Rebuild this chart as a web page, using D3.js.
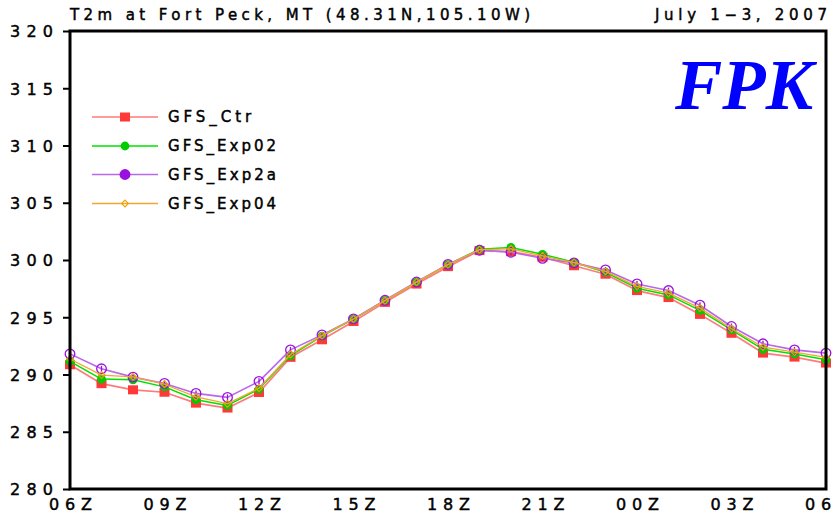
<!DOCTYPE html>
<html>
<head>
<meta charset="utf-8">
<script src="https://cdn.jsdelivr.net/npm/d3@7"></script>
<style>
  html, body { margin: 0; padding: 0; background: #fff; }
  svg { display: block; }
  .lbl { font-family: "DejaVu Sans", sans-serif; fill: #000; stroke: #000; stroke-width: 0.45px; }
</style>
</head>
<body>
<svg id="chart" width="832" height="515"></svg>
<script>
// Hourly 2 m temperature (K), 06Z to 06Z next day
const hours = d3.range(0, 25);
const tickHours = [0, 3, 6, 9, 12, 15, 18, 21, 24];
const tickLabels = ["06Z", "09Z", "12Z", "15Z", "18Z", "21Z", "00Z", "03Z", "06Z"];
const yTicks = [280, 285, 290, 295, 300, 305, 310, 315, 320];

const gfsCtr   = [290.85, 289.2, 288.66, 288.45, 287.5, 287.07, 288.43, 291.5, 293.03, 294.63, 296.3, 297.9, 299.42, 300.82, 300.73, 300.24, 299.5, 298.76, 297.33, 296.72, 295.25, 293.6, 291.87, 291.52, 291.0];
const gfsExp02 = [291.14, 289.6, 289.54, 288.92, 287.8, 287.3, 288.73, 291.65, 293.35, 294.83, 296.46, 298.06, 299.6, 300.94, 301.1, 300.5, 299.8, 298.93, 297.54, 296.95, 295.6, 293.9, 292.2, 291.8, 291.28];
const gfsExp2a = [291.8, 290.5, 289.77, 289.22, 288.35, 288.0, 289.4, 292.15, 293.46, 294.86, 296.48, 298.08, 299.62, 300.85, 300.68, 300.15, 299.75, 299.13, 297.91, 297.33, 296.05, 294.19, 292.68, 292.15, 291.87];
const gfsExp04 = [291.35, 289.95, 289.8, 289.15, 288.05, 287.45, 288.8, 291.75, 293.4, 294.85, 296.45, 298.07, 299.6, 300.9, 300.97, 300.36, 299.78, 299.0, 297.7, 297.1, 295.8, 294.0, 292.4, 291.95, 291.5];

const seriesNames = ["GFS_Ctr", "GFS_Exp02", "GFS_Exp2a", "GFS_Exp04"];

const series = [
  { name: seriesNames[0], values: gfsCtr,   line: "#ff7a7a", mark: "#ff3838", shape: "square",  lw: 1.7 },
  { name: seriesNames[1], values: gfsExp02, line: "#00e000", mark: "#00cc00", shape: "dot",     lw: 1.5 },
  { name: seriesNames[2], values: gfsExp2a, line: "#b868e8", mark: "#9a10e0", shape: "ring",    lw: 1.6 },
  { name: seriesNames[3], values: gfsExp04, line: "#f0a830", mark: "#f0a000", shape: "diamond", lw: 1.3 }
];

const frame = { left: 70, top: 31, right: 826, bottom: 489 };

const svg = d3.select("#chart");

const x = d3.scaleLinear().domain([0, 24]).range([frame.left, frame.right]);
const y = d3.scaleLinear().domain([280, 320]).range([frame.bottom, frame.top]);

const clipId = "plotclip";
svg.append("clipPath").attr("id", clipId)
  .append("rect")
  .attr("x", frame.left - 6).attr("y", frame.top)
  .attr("width", frame.right - frame.left + 12).attr("height", frame.bottom - frame.top);

// draws one marker symbol at (cx, cy)
function drawMark(g, s, cx, cy, legend) {
  if (s.shape === "square") {
    g.append("rect").attr("x", cx - 5).attr("y", cy - 4.5).attr("width", 10).attr("height", 9)
      .attr("fill", s.mark);
  } else if (s.shape === "dot") {
    g.append("circle").attr("cx", cx).attr("cy", cy).attr("r", 4.4).attr("fill", s.mark);
  } else if (s.shape === "ring") {
    g.append("circle").attr("cx", cx).attr("cy", cy).attr("r", 4.8)
      .attr("fill", legend ? s.mark : "none").attr("stroke", s.mark).attr("stroke-width", 1.3);
    g.append("line").attr("x1", cx).attr("x2", cx).attr("y1", cy - 3).attr("y2", cy + 3)
      .attr("stroke", s.mark).attr("stroke-width", 1.3);
  } else {
    g.append("path")
      .attr("d", `M${cx},${cy - 3.4}L${cx + 3.4},${cy}L${cx},${cy + 3.4}L${cx - 3.4},${cy}Z`)
      .attr("fill", "none").attr("stroke", s.mark).attr("stroke-width", 1.1);
  }
}

const lineGen = d3.line().x((d, i) => x(hours[i])).y(d => y(d));

const dataLayer = svg.append("g").attr("clip-path", `url(#${clipId})`);
series.forEach(s => {
  const g = dataLayer.append("g");
  g.append("path").datum(s.values)
    .attr("d", lineGen)
    .attr("fill", "none").attr("stroke", s.line).attr("stroke-width", s.lw)
    .attr("stroke-linejoin", "round");
  s.values.forEach((v, i) => drawMark(g, s, x(hours[i]), y(v), false));
});

// frame
svg.append("rect")
  .attr("x", frame.left).attr("y", frame.top)
  .attr("width", frame.right - frame.left).attr("height", frame.bottom - frame.top)
  .attr("fill", "none").attr("stroke", "#000").attr("stroke-width", 3);

// y axis ticks and labels
const yAxis = d3.axisLeft(y).tickValues(yTicks).tickSize(7).tickFormat(d3.format("d"));
const gy = svg.append("g").attr("transform", `translate(${frame.left},0)`).call(yAxis);
gy.select(".domain").remove();
gy.selectAll(".tick line").attr("stroke", "#000").attr("stroke-width", 2);
gy.selectAll(".tick text")
  .attr("class", "lbl")
  .attr("x", -17).attr("dy", "0.36em")
  .attr("font-size", 16)
  .attr("textLength", 43).attr("lengthAdjust", "spacing");

// x axis labels
const xAxis = d3.axisBottom(x).tickValues(tickHours).tickSize(0)
  .tickFormat((d, i) => tickLabels[i]);
const gx = svg.append("g").attr("transform", `translate(0,${frame.bottom})`).call(xAxis);
gx.select(".domain").remove();
gx.selectAll(".tick text")
  .attr("class", "lbl")
  .attr("y", 21).attr("dy", 0)
  .attr("font-size", 16)
  .attr("textLength", 43).attr("lengthAdjust", "spacing");

// titles
svg.append("text").attr("class", "lbl")
  .attr("x", 70).attr("y", 20).attr("font-size", 15)
  .attr("textLength", 460).attr("lengthAdjust", "spacing")
  .text("T2m at Fort Peck, MT (48.31N,105.10W)");
svg.append("text").attr("class", "lbl")
  .attr("x", 655).attr("y", 20).attr("font-size", 15)
  .attr("textLength", 172).attr("lengthAdjust", "spacing")
  .text("July 1\u22123, 2007");

svg.append("text")
  .attr("x", 813).attr("y", 109)
  .attr("text-anchor", "end")
  .attr("font-family", "'Liberation Serif', 'DejaVu Serif', serif")
  .attr("font-weight", "bold").attr("font-style", "italic")
  .attr("font-size", 71).attr("fill", "#0000ff")
  .text("FPK");

// legend
const legendRows = [117, 146, 174.5, 203.5];
series.forEach((s, i) => {
  const ly = legendRows[i];
  const g = svg.append("g");
  g.append("line").attr("x1", 92).attr("x2", 158).attr("y1", ly).attr("y2", ly)
    .attr("stroke", s.line).attr("stroke-width", s.lw);
  drawMark(g, s, 125, ly, true);
  g.append("text").attr("class", "lbl")
    .attr("x", 168).attr("y", ly).attr("dy", "0.36em")
    .attr("font-size", 15)
    .attr("textLength", s.name.length * 12.45 - 4).attr("lengthAdjust", "spacing")
    .text(s.name);
});
</script>
</body>
</html>
